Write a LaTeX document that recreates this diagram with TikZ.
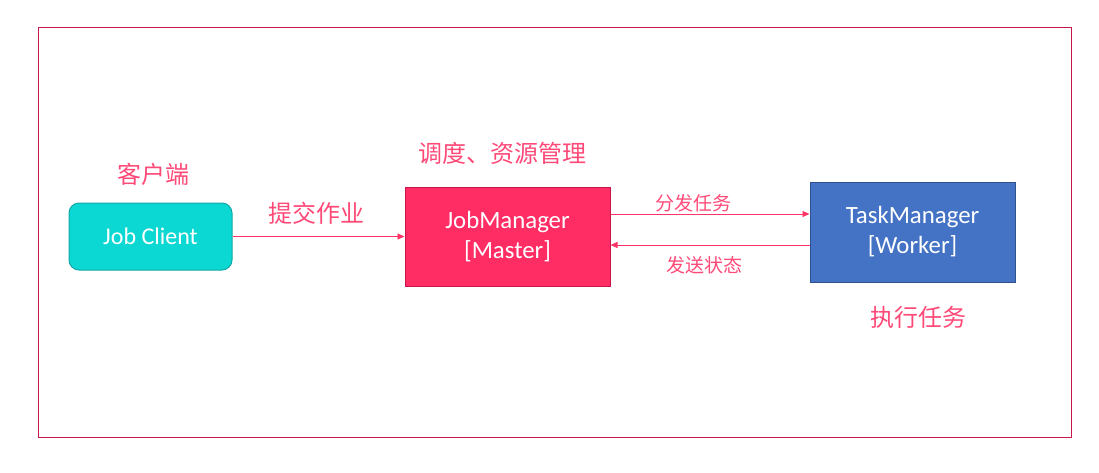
\documentclass[tikz,border=0pt]{standalone}
\usepackage{fontspec}
\setmainfont{Carlito}
\newfontfamily\cjk{Noto Sans CJK SC}
\usetikzlibrary{arrows.meta}
\definecolor{framec}{HTML}{C8174A}
\definecolor{tealf}{HTML}{0BD7D3}
\definecolor{teald}{HTML}{13A8A6}
\definecolor{pinkf}{HTML}{FF2D64}
\definecolor{pinkd}{HTML}{C8174A}
\definecolor{bluef}{HTML}{4472C4}
\definecolor{blued}{HTML}{2F528F}
\definecolor{labelc}{HTML}{FF4A78}
\definecolor{arrowc}{HTML}{FF3366}
\tikzset{
  box/.style={draw, line width=1pt, text=white, align=center, inner sep=0pt, font=\fontsize{24.8}{30}\selectfont},
  lbl/.style={text=labelc, inner sep=0pt, font=\cjk\fontsize{24}{28}\selectfont},
  slbl/.style={text=labelc, inner sep=0pt, font=\cjk\fontsize{19}{22}\selectfont},
  conn/.style={draw=arrowc, line width=0.9pt, -{Triangle[length=7pt,width=6pt]}}
}
\begin{document}
\begin{tikzpicture}[x=1pt,y=-1pt]
\useasboundingbox (0,0) rectangle (1099,472);
\draw[framec, line width=1pt] (38,27) rectangle (1071,437);
\node[box, fill=tealf, draw=teald, rounded corners=10pt, minimum width=163pt, minimum height=67pt, font=\fontsize{24}{28}\selectfont] (jc) at (150.5,236.5) {Job Client};
\node[box, fill=pinkf, draw=pinkd, minimum width=205pt, minimum height=99pt] (jm) at (507.5,236.5) {JobManager\\{}[Master]};
\node[box, fill=bluef, draw=blued, minimum width=205pt, minimum height=100pt] (tm) at (912.5,232) {TaskManager\\{}[Worker]};
\node[lbl] (l1) at (153.5,174) {客户端};
\node[lbl] (l2) at (316.5,213) {提交作业};
\node[lbl] (l3) at (502,153) {调度、资源管理};
\node[slbl] (l4) at (693.5,203) {分发任务};
\node[slbl] (l5) at (704.5,265) {发送状态};
\node[lbl] (l6) at (918.5,317) {执行任务};
\draw[conn] (jc.east) -- (jm.west);
\coordinate (a1) at ([yshift=22.5pt]jm.east);
\draw[conn] (a1) -- (a1 -| tm.west);
\coordinate (b1) at ([yshift=-13pt]tm.west);
\draw[conn] (b1) -- (b1 -| jm.east);
\end{tikzpicture}
\end{document}
